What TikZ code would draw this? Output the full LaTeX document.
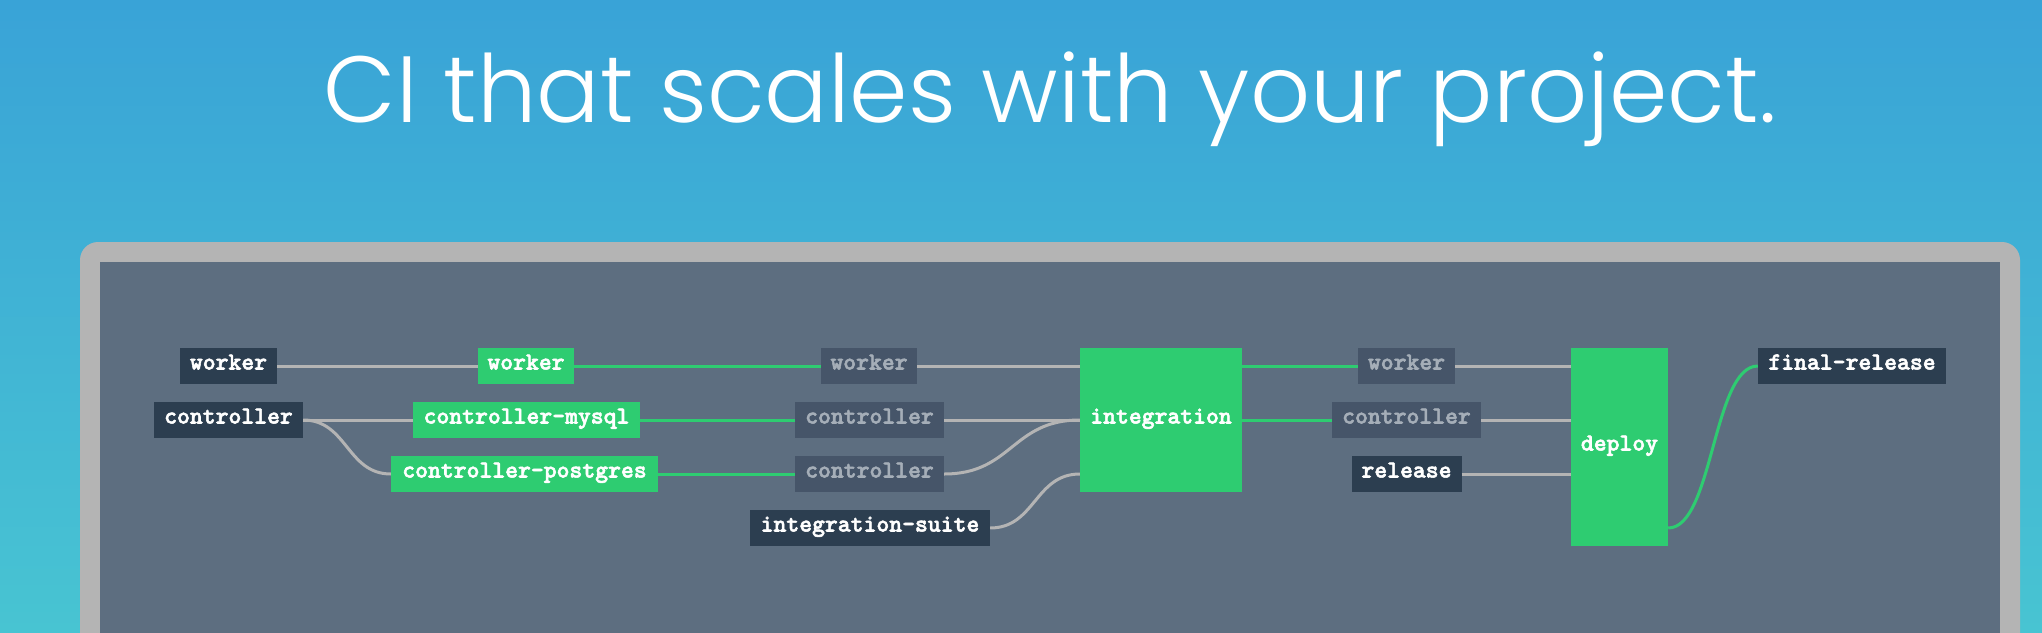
\documentclass[tikz,border=0pt]{standalone}
\usepackage{fontspec}
\newfontfamily\titlefont{Poppins Light}
\newfontfamily\jobfont{lmmonolt10-bold.otf}[FakeBold=2.2]
\definecolor{bgtop}{RGB}{57,163,215}
\definecolor{bgbot}{RGB}{72,196,210}
\definecolor{framegray}{RGB}{180,180,180}
\definecolor{panel}{RGB}{93,110,128}
\definecolor{darkbox}{RGB}{44,62,80}
\definecolor{dimbox}{RGB}{70,85,105}
\definecolor{dimtext}{RGB}{165,174,184}
\definecolor{okgreen}{RGB}{46,204,113}
\definecolor{linegray}{RGB}{180,180,180}
\tikzset{
  jobbox/.style={rectangle, inner sep=0pt, minimum height=36pt, text height=0.84em, text depth=0.14em,
    font=\fontsize{24.5}{24.5}\selectfont\jobfont},
  darkjob/.style={jobbox, fill=darkbox, text=white},
  dimjob/.style={jobbox, fill=dimbox, text=dimtext},
  greenjob/.style={jobbox, fill=okgreen, text=white},
  grayline/.style={draw=linegray, line width=3pt},
  greenline/.style={draw=okgreen, line width=3pt},
}
\begin{document}
\begin{tikzpicture}[x=1pt,y=-1pt]
\useasboundingbox (0,0) rectangle (2042,632);
\clip (0,0) rectangle (2042,632);
\shade[top color=bgtop, bottom color=bgbot] (0,0) rectangle (2042,632);
\node[anchor=base, text=white, inner sep=0pt, font=\titlefont\fontsize{94}{94}\selectfont] (title) at (1050,122) {CI that scales with your project.};
\fill[framegray, rounded corners=18pt] (80,242) rectangle (2020,720);
\fill[panel] (100,262) rectangle (2000,720);
% column 0
\node[darkjob, minimum width=97pt] (w0) at (228.5,366) {worker};
\node[darkjob, minimum width=149pt] (c0) at (228.5,420) {controller};
% column 1
\node[greenjob, minimum width=96pt] (w1) at (526,366) {worker};
\node[greenjob, minimum width=227pt] (m1) at (526.5,420) {controller-mysql};
\node[greenjob, minimum width=267pt] (p1) at (524.5,474) {controller-postgres};
% column 2
\node[dimjob, minimum width=96pt] (w2) at (869,366) {worker};
\node[dimjob, minimum width=149pt] (c2) at (869.5,420) {controller};
\node[dimjob, minimum width=149pt] (c3) at (869.5,474) {controller};
\node[darkjob, minimum width=240pt] (is) at (870,528) {integration-suite};
% integration
\node[greenjob, minimum width=162pt, minimum height=144pt] (int) at (1161,420) {integration};
% column 4
\node[dimjob, minimum width=97pt] (w4) at (1406.5,366) {worker};
\node[dimjob, minimum width=149pt] (c4) at (1406.5,420) {controller};
\node[darkjob, minimum width=110pt] (rel) at (1406.5,474) {release};
% deploy
\node[greenjob, minimum width=97pt, minimum height=198pt] (dep) at (1619.5,447) {deploy};
\node[darkjob, minimum width=188pt] (fr) at (1852,366) {final-release};
% connectors
\draw[grayline] (w0.east) -- (w1.west);
\draw[grayline] (c0.east) -- (m1.west);
\draw[grayline] (c0.east) .. controls ++(44,0) and ++(-44,0) .. (p1.west);
\draw[greenline] (w1.east) -- (w2.west);
\draw[greenline] (m1.east) -- (c2.west);
\draw[greenline] (p1.east) -- (c3.west);
\draw[grayline] (w2.east) -- (int.west |- w2.east);
\draw[grayline] (c2.east) -- (int.west);
\draw[grayline] (c3.east) .. controls ++(68,0) and ++(-68,0) .. (int.west);
\coordinate (intin) at ([yshift=-54pt]int.west);
\draw[grayline] (is.east) .. controls ++(45,0) and ++(-45,0) .. (intin);
\draw[greenline] (int.east |- w4.west) -- (w4.west);
\draw[greenline] (int.east) -- (c4.west);
\draw[grayline] (w4.east) -- (dep.west |- w4.east);
\draw[grayline] (c4.east) -- (dep.west |- c4.east);
\draw[grayline] (rel.east) -- (dep.west |- rel.east);
\coordinate (depout) at ([yshift=-81pt]dep.east);
\draw[greenline] (depout) .. controls ++(45,0) and ++(-45,0) .. (fr.west);
\end{tikzpicture}
\end{document}
